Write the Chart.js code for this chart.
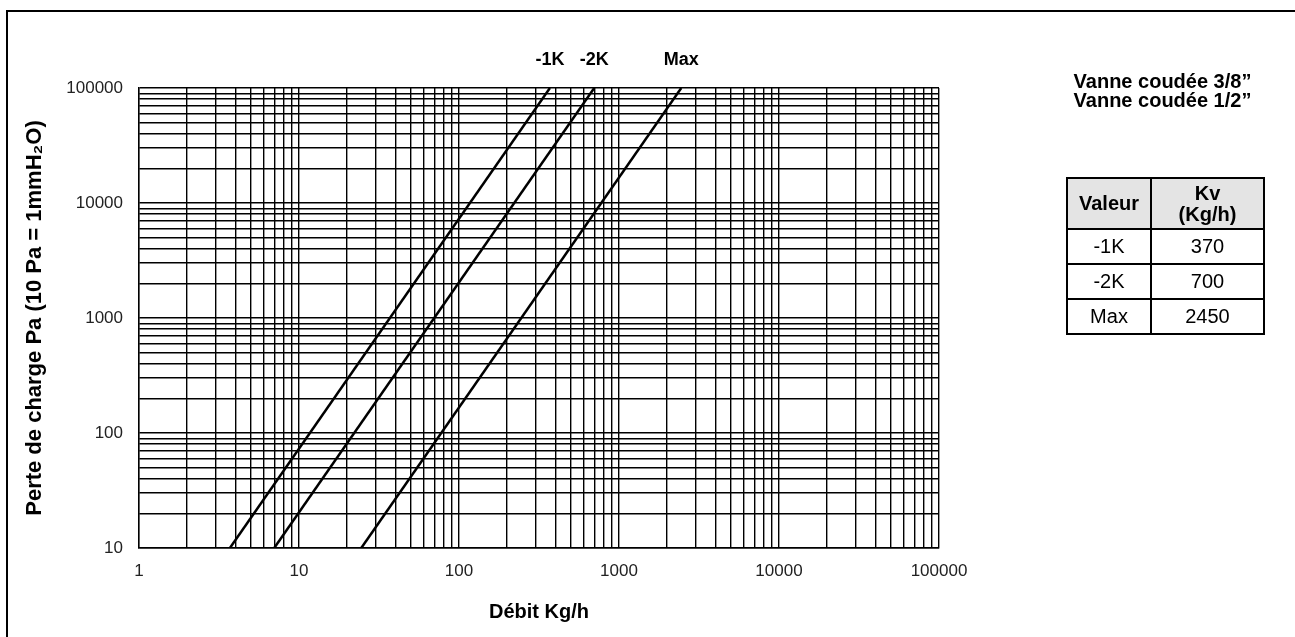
<!DOCTYPE html>
<html lang="fr">
<head>
<meta charset="utf-8">
<title>Perte de charge - Vanne coudée</title>
<script src="https://cdn.jsdelivr.net/npm/chart.js@4.4.1/dist/chart.umd.min.js"></script>
<style>
    html, body { margin: 0; padding: 0; background: #fff; }
    body {
        width: 1295px; height: 637px; position: relative; overflow: hidden;
        font-family: "Liberation Sans", Arial, sans-serif; color: #000;
    }
    #chart { position: absolute; left: 0; top: 0; }
    .cadre-haut { position: absolute; left: 6px; top: 10px; width: 1289px; height: 2px; background: #000; }
    .cadre-gauche { position: absolute; left: 6px; top: 10px; width: 2px; height: 627px; background: #000; }
    #titre {
        position: absolute; left: 1030px; width: 265px; top: 72px;
        text-align: center; font-weight: bold; font-size: 20px; line-height: 19px;
    }
    #tableau {
        position: absolute; left: 1066px; top: 177px; width: 197px;
        border-collapse: collapse; table-layout: fixed;
        font-size: 20px;
    }
    #tableau th, #tableau td { border: 2px solid #000; text-align: center; padding: 0; }
    #tableau th { background: #e4e4e4; font-size: 20px; line-height: 21px; }
    #tableau tr.entete { height: 51px; }
    #tableau tr.ligne { height: 35px; }
</style>
</head>
<body>
<canvas id="chart" width="1295" height="637"></canvas>
<div class="cadre-haut"></div>
<div class="cadre-gauche"></div>
<div id="titre">Vanne coudée 3/8”<br>Vanne coudée 1/2”</div>
<table id="tableau">
    <colgroup><col style="width:84px"><col style="width:113px"></colgroup>
    <thead><tr class="entete"><th>Valeur</th><th>Kv<br>(Kg/h)</th></tr></thead>
    <tbody id="corps"></tbody>
</table>
<script>
// courbes : débit (Kg/h) à 10 Pa et à 100000 Pa
const series = ['-1K', '-2K', 'Max'];
const pression = [10, 100000];
const debit1K = [3.7, 370];
const debit2K = [7, 700];
const debitMax = [24.5, 2450];

// tableau Kv
const valeurs = ['-1K', '-2K', 'Max'];
const kv = [370, 700, 2450];

// graduations
const decadesX = [1, 10, 100, 1000, 10000, 100000];
const decadesY = [10, 100, 1000, 10000, 100000];
const pas = [1, 2, 3, 4, 5, 6, 7, 8, 9];
const xTickLabels = decadesX.map(String);
const yTickLabels = decadesY.map(String);

const police = '"Liberation Sans", Arial, sans-serif';

function grille(decades) {
    const t = [];
    decades.slice(0, -1).forEach(function(d) {
        pas.forEach(function(p) { t.push(d * p); });
    });
    t.push(decades[decades.length - 1]);
    return t;
}

// remplir le tableau
const corps = document.getElementById('corps');
valeurs.forEach(function(v, i) {
    const tr = document.createElement('tr');
    tr.className = 'ligne';
    tr.innerHTML = '<td>' + v + '</td><td>' + kv[i] + '</td>';
    corps.appendChild(tr);
});

// étiquettes au-dessus des courbes
const etiquettesHaut = {
    id: 'etiquettesHaut',
    afterDatasetsDraw(chart) {
        const ctx = chart.ctx;
        const x = chart.scales.x;
        ctx.save();
        ctx.font = 'bold 18px ' + police;
        ctx.fillStyle = '#000';
        ctx.textAlign = 'center';
        ctx.textBaseline = 'middle';
        chart.data.datasets.forEach(function(ds) {
            const fin = ds.data[ds.data.length - 1];
            ctx.fillText(ds.label, x.getPixelForValue(fin.x), 60);
        });
        ctx.restore();
    }
};

const debits = [debit1K, debit2K, debitMax];

const ctx = document.getElementById('chart').getContext('2d');
new Chart(ctx, {
    type: 'scatter',
    data: {
        datasets: series.map(function(nom, i) {
            return {
                label: nom,
                data: pression.map(function(p, j) { return { x: debits[i][j], y: p }; }),
                showLine: true,
                borderColor: '#000',
                borderWidth: 2.5,
                pointRadius: 0,
                fill: false
            };
        })
    },
    plugins: [etiquettesHaut],
    options: {
        responsive: false,
        animation: false,
        devicePixelRatio: 1,
        layout: { padding: { left: 0, top: 88, right: 356, bottom: 0 } },
        plugins: {
            legend: { display: false },
            tooltip: { enabled: false }
        },
        scales: {
            x: {
                type: 'logarithmic',
                min: 1,
                max: 100000,
                afterBuildTicks: function(s) {
                    s.ticks = grille(decadesX).map(function(v) { return { value: v }; });
                },
                afterFit: function(s) { s.height = 89; },
                grid: { color: '#000', lineWidth: 1.4, drawTicks: false },
                border: { color: '#000', width: 1.4 },
                ticks: {
                    autoSkip: false,
                    maxRotation: 0,
                    padding: 13,
                    color: '#222',
                    font: { family: police, size: 17 },
                    callback: function(v) {
                        return xTickLabels.includes(String(v)) ? String(v) : '';
                    }
                },
                title: {
                    display: true,
                    text: 'Débit Kg/h',
                    color: '#000',
                    font: { family: police, size: 20, weight: 'bold' },
                    padding: { top: 0, bottom: 13 }
                }
            },
            y: {
                type: 'logarithmic',
                min: 10,
                max: 100000,
                afterBuildTicks: function(s) {
                    s.ticks = grille(decadesY).map(function(v) { return { value: v }; });
                },
                afterFit: function(s) { s.width = 139; },
                grid: { color: '#000', lineWidth: 1.4, drawTicks: false },
                border: { color: '#000', width: 1.4 },
                ticks: {
                    autoSkip: false,
                    padding: 16,
                    color: '#222',
                    font: { family: police, size: 17 },
                    callback: function(v) {
                        return yTickLabels.includes(String(v)) ? String(v) : '';
                    }
                },
                title: {
                    display: true,
                    text: 'Perte de charge Pa (10 Pa = 1mmH₂O)',
                    color: '#000',
                    font: { family: police, size: 22, weight: 'bold' },
                    padding: { top: 22, bottom: 0 }
                }
            }
        }
    }
});
</script>
</body>
</html>
